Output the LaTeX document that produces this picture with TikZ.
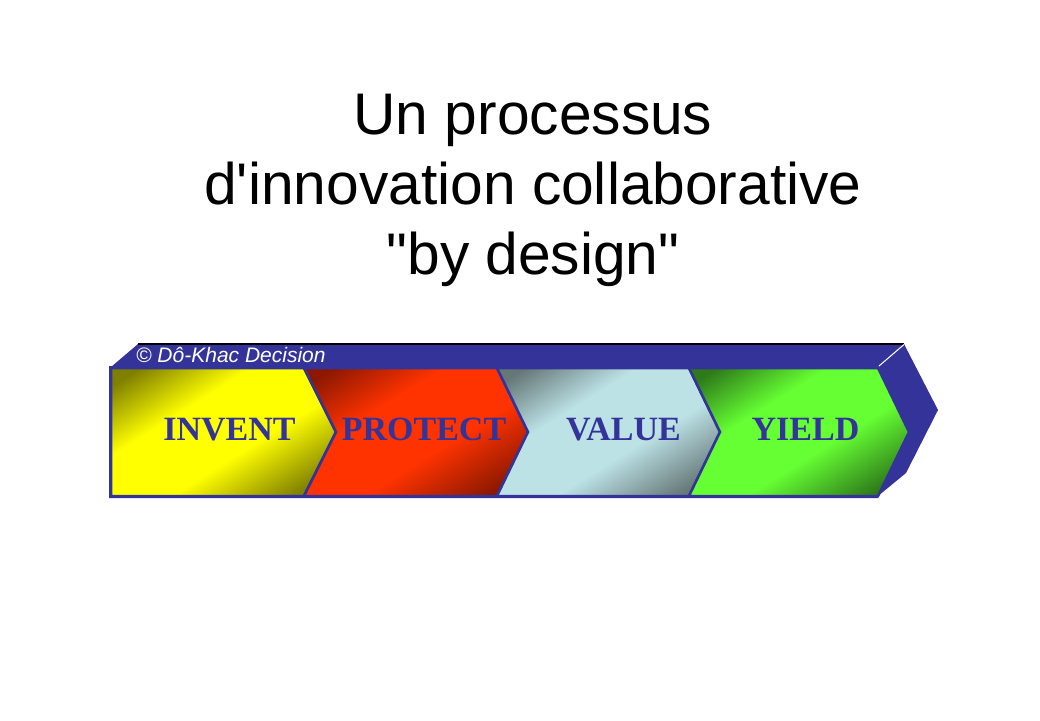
\documentclass[tikz,border=0pt]{standalone}
\usepackage{fontspec}
\setmainfont{Liberation Sans}
\newfontfamily\titlefont{Liberation Sans}[Ligatures=TeXOff]
\newfontfamily\labfont{Liberation Serif}
\definecolor{band}{HTML}{333399}
\definecolor{ydk}{HTML}{7F7F00}
\definecolor{ylt}{HTML}{FFFF00}
\definecolor{rdk}{HTML}{8C1800}
\definecolor{rlt}{HTML}{FF3300}
\definecolor{vdk}{HTML}{667777}
\definecolor{vlt}{HTML}{BCE2E6}
\definecolor{gdk}{HTML}{2E7A1A}
\definecolor{glt}{HTML}{66FF33}
\pgfdeclareverticalshading{yelsh}{100bp}{color(0bp)=(ydk); color(22bp)=(ydk); color(42bp)=(ylt); color(62bp)=(ylt); color(80bp)=(ydk); color(100bp)=(ydk)}
\pgfdeclareverticalshading{redsh}{100bp}{color(0bp)=(rdk); color(22bp)=(rdk); color(42bp)=(rlt); color(62bp)=(rlt); color(80bp)=(rdk); color(100bp)=(rdk)}
\pgfdeclareverticalshading{valsh}{100bp}{color(0bp)=(vdk); color(22bp)=(vdk); color(42bp)=(vlt); color(62bp)=(vlt); color(80bp)=(vdk); color(100bp)=(vdk)}
\pgfdeclareverticalshading{grnsh}{100bp}{color(0bp)=(gdk); color(22bp)=(gdk); color(42bp)=(glt); color(62bp)=(glt); color(80bp)=(gdk); color(100bp)=(gdk)}
\tikzset{
  chev/.style={draw=band, line width=2.5pt, line join=miter},
  face/.style={fill=band},
  titletext/.style={font=\titlefont\fontsize{58.7}{70}\selectfont, text=black, anchor=base, inner sep=0pt},
  lab/.style={font=\labfont\bfseries\fontsize{34}{40}\selectfont, text=band, anchor=base, inner sep=0pt},
}
\begin{document}
\begin{tikzpicture}[x=1pt,y=-1pt]
\useasboundingbox[fill=white] (0,0) rectangle (1040,720);
% title
\node[titletext] (t1) at (533,134) {Un processus};
\node[titletext] (t2) at (533,204) {d'innovation collaborative};
\node[titletext] (t3) at (533,274) {"by design"};
% top face
\fill[face] (111,367) -- (138,344) -- (904,344) -- (878,367) -- cycle;
\draw[black, line width=1.2pt] (138,344) -- (904,344);
\draw[black, line width=1.2pt] (111,366.5) -- (878,366.5);
% side face
\fill[face] (878,367) -- (904,344) -- (938,410) -- (906,473) -- (878,496) -- (909,432) -- cycle;
\draw[white, line width=1pt] (879,366) -- (904,344.5);
% front background
\fill[face] (109,366) -- (878,366) -- (910,432) -- (878,498) -- (109,498) -- cycle;
% chevrons
\shade[shading=yelsh, shading angle=32] (111,368) -- (304,368) -- (336,432) -- (304,496) -- (111,496) -- cycle;
\draw[chev] (111,368) -- (304,368) -- (336,432) -- (304,496) -- (111,496) -- cycle;
\shade[shading=redsh, shading angle=32] (304,368) -- (497,368) -- (528,432) -- (497,496) -- (304,496) -- (336,432) -- cycle;
\draw[chev] (304,368) -- (497,368) -- (528,432) -- (497,496) -- (304,496) -- (336,432) -- cycle;
\shade[shading=valsh, shading angle=32] (497,368) -- (689,368) -- (720,432) -- (689,496) -- (497,496) -- (528,432) -- cycle;
\draw[chev] (497,368) -- (689,368) -- (720,432) -- (689,496) -- (497,496) -- (528,432) -- cycle;
\shade[shading=grnsh, shading angle=32] (689,368) -- (878,368) -- (909,432) -- (878,496) -- (689,496) -- (720,432) -- cycle;
\draw[chev] (689,368) -- (878,368) -- (909,432) -- (878,496) -- (689,496) -- (720,432) -- cycle;
% copyright
\node[font=\itshape\fontsize{21}{24}\selectfont, text=white, anchor=base west, inner sep=0pt] (copy) at (136,362) {© Dô-Khac Decision};
% labels
\node[lab] (l1) at (229.5,440) {INVENT};
\node[lab] (l2) at (424,440) {PROTECT};
\node[lab] (l3) at (623.5,440) {VALUE};
\node[lab] (l4) at (805.5,440) {YIELD};
\end{tikzpicture}
\end{document}
